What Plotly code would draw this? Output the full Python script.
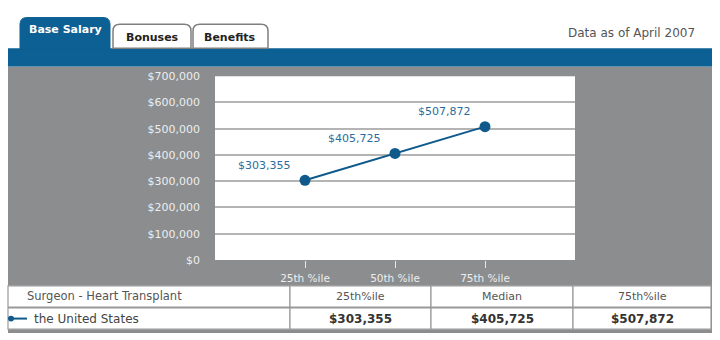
import plotly.graph_objects as go

# ---- data ----
percentiles = ["25th %ile", "50th %ile", "75th %ile"]
table_headers = ["25th%ile", "Median", "75th%ile"]
salaries = [303355, 405725, 507872]
y_tick_values = [0, 100000, 200000, 300000, 400000, 500000, 600000, 700000]
job_title = "Surgeon - Heart Transplant"
region_name = "the United States"
tab_names = ["Base Salary", "Bonuses", "Benefits"]
as_of_text = "Data as of April 2007"

# ---- page geometry (pixels) ----
W, H = 720, 340
FONT = "DejaVu Sans"
BLUE = "#0d6094"
LINE_BLUE = "#0f5a8b"
PANEL_GRAY = "#8b8d8f"
BORDER_GRAY = "#9a9a9a"


def fx(x):
    return x / W


def fy(y):
    return 1 - y / H


def rect(x0, y0, x1, y1, fill, line_color=None, line_width=0):
    return dict(type="rect", xref="paper", yref="paper", layer="below",
                x0=fx(x0), x1=fx(x1), y0=fy(y1), y1=fy(y0),
                fillcolor=fill,
                line=dict(color=line_color or fill, width=line_width))


def tab_path(x0, y0, x1, y1, r=6):
    rx, ry = r / W, r / H
    a, b, c, d = fx(x0), fx(x1), fy(y0), fy(y1)
    return (f"M {a},{d} L {a},{c - ry} Q {a},{c} {a + rx},{c} "
            f"L {b - rx},{c} Q {b},{c} {b},{c - ry} L {b},{d} Z")


def money(v):
    return f"${v:,}"


PLOT_L, PLOT_R, PLOT_T, PLOT_B = 215, 575, 73, 264
PANEL_L, PANEL_R = 8, 712
BAND_T, BAND_B = 44, 63
TABLE_T, TABLE_MID, TABLE_B = 291, 313, 336
COLS = [8, 290, 431, 573, 711]

fig = go.Figure()

fig.add_trace(go.Scatter(
    x=percentiles, y=salaries, mode="lines+markers",
    line=dict(color=LINE_BLUE, width=2),
    marker=dict(color=LINE_BLUE, size=11),
    hoverinfo="skip", showlegend=False,
))

shapes = []
# gray panel around the white plotting area
shapes.append(rect(PANEL_L, BAND_B, PLOT_L, H, PANEL_GRAY))
shapes.append(rect(PLOT_R, BAND_B, PANEL_R, H, PANEL_GRAY))
shapes.append(rect(PLOT_L, BAND_B, PLOT_R, PLOT_T, PANEL_GRAY))
shapes.append(rect(PLOT_L, PLOT_B, PLOT_R, H, PANEL_GRAY))
# blue band under the tabs
shapes.append(rect(PANEL_L, BAND_T, PANEL_R, BAND_B, BLUE))

# tabs
tab_boxes = [(20, 12, 110), (113, 19, 191), (193, 19, 268)]
for i, (x0, y0, x1) in enumerate(tab_boxes):
    active = i == 0
    shapes.append(dict(type="path", xref="paper", yref="paper", layer="below",
                       path=tab_path(x0, y0, x1, BAND_T + (1 if active else 0), r=7),
                       fillcolor=BLUE if active else "white",
                       line=dict(color=BLUE if active else "#7f7f7f",
                                 width=1 if active else 1.5)))

# table cells
for r, (y0, y1) in enumerate([(TABLE_T, TABLE_MID), (TABLE_MID + 1, TABLE_B)]):
    for c in range(4):
        shapes.append(rect(COLS[c], y0, COLS[c + 1], y1, "white",
                           line_color=BORDER_GRAY, line_width=1.2))

# small series key in the table row
shapes.append(dict(type="line", xref="paper", yref="paper",
                   x0=fx(10), x1=fx(27), y0=fy(325), y1=fy(325),
                   line=dict(color=LINE_BLUE, width=2)))
shapes.append(dict(type="circle", xref="paper", yref="paper",
                   x0=fx(8), x1=fx(14), y0=fy(328), y1=fy(322),
                   fillcolor=LINE_BLUE, line=dict(color=LINE_BLUE, width=0)))

annotations = []
# value labels beside each point
for p, v in zip(percentiles, salaries):
    annotations.append(dict(x=p, y=v, xref="x", yref="y", text=money(v),
                            showarrow=False, xshift=-41, yshift=15,
                            font=dict(family=FONT, size=11, color="#2a6c9c")))

# tab captions
for i, (name, (x0, y0, x1)) in enumerate(zip(tab_names, tab_boxes)):
    active = i == 0
    annotations.append(dict(x=fx((x0 + x1) / 2), y=fy(24 if active else 33),
                            xref="paper", yref="paper", text=f"<b>{name}</b>",
                            showarrow=False, xanchor="center", yanchor="middle",
                            font=dict(family=FONT, size=11,
                                      color="white" if active else "#222222")))

annotations.append(dict(x=fx(697), y=fy(28), xref="paper", yref="paper",
                        text=as_of_text, showarrow=False, xanchor="right",
                        yanchor="middle",
                        font=dict(family=FONT, size=12, color="#555555")))

# table text
row1_y, row2_y = fy((TABLE_T + TABLE_MID) / 2), fy((TABLE_MID + TABLE_B) / 2 + 1)
annotations.append(dict(x=fx(25), y=row1_y, xref="paper", yref="paper",
                        text=job_title, showarrow=False, xanchor="left",
                        yanchor="middle",
                        font=dict(family=FONT, size=11.5, color="#555555")))
annotations.append(dict(x=fx(32), y=row2_y, xref="paper", yref="paper",
                        text=region_name, showarrow=False, xanchor="left",
                        yanchor="middle",
                        font=dict(family=FONT, size=12, color="#444444")))
for c, (hdr, v) in enumerate(zip(table_headers, salaries)):
    cx = fx((COLS[c + 1] + COLS[c + 2]) / 2)
    annotations.append(dict(x=cx, y=row1_y, xref="paper", yref="paper",
                            text=hdr, showarrow=False, xanchor="center",
                            yanchor="middle",
                            font=dict(family=FONT, size=11, color="#555555")))
    annotations.append(dict(x=cx, y=row2_y, xref="paper", yref="paper",
                            text=f"<b>{money(v)}</b>", showarrow=False,
                            xanchor="center", yanchor="middle",
                            font=dict(family=FONT, size=12, color="#333333")))

fig.update_layout(
    width=W, height=H,
    margin=dict(l=0, r=0, t=0, b=0),
    paper_bgcolor="white", plot_bgcolor="white",
    shapes=shapes, annotations=annotations,
    xaxis=dict(domain=[fx(PLOT_L), fx(PLOT_R)], type="category",
               range=[-1, 3], showgrid=False, zeroline=False, showline=False,
               ticks="outside", ticklen=7, tickcolor="#e8e8e8", tickwidth=1,
               ticklabelstandoff=1,
               tickfont=dict(family=FONT, size=10.5, color="#eeeeee"),
               fixedrange=True),
    yaxis=dict(domain=[fy(PLOT_B), fy(PLOT_T)], range=[0, 700000],
               tickvals=y_tick_values,
               ticktext=[money(v) for v in y_tick_values],
               showgrid=True, gridcolor="#b4b4b4", gridwidth=1.5,
               zeroline=False, showline=False, ticks="",
               ticklabelstandoff=14,
               tickfont=dict(family=FONT, size=11, color="#eeeeee"),
               fixedrange=True),
    showlegend=False,
)

fig.write_html("out.html")
